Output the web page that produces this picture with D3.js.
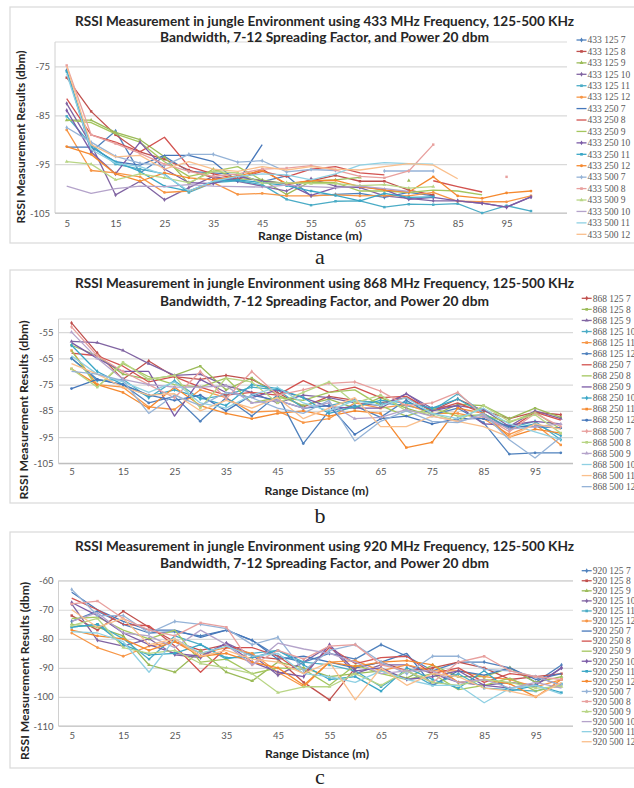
<!DOCTYPE html>
<html>
<head>
<meta charset="utf-8">
<script src="https://cdn.jsdelivr.net/npm/d3@7/dist/d3.min.js"></script>
<style>
  body { margin: 0; background: #fff; }
  svg { display: block; }
</style>
</head>
<body>
<script>
// range distances (m) on the x axis
const distances = [5, 10, 15, 20, 25, 30, 35, 40, 45, 50, 55, 60, 65, 70, 75, 80, 85, 90, 95, 100];
const xTickLabels = [5, 15, 25, 35, 45, 55, 65, 75, 85, 95];
// bandwidth + spreading factor, same order in every panel
const seriesNames = ["125 7", "125 8", "125 9", "125 10", "125 11", "125 12",
                     "250 7", "250 8", "250 9", "250 10", "250 11", "250 12",
                     "500 7", "500 8", "500 9", "500 10", "500 11", "500 12"];

// RSSI (dbm), one row per series, null = no point
const rssi433 = [
  [-75.8, -92.5, -88.2, -96.8, -93.4, -96.5, -96.8, -97.2, -98.6, -97.4, -101.5, -101.2, -101.0, -101.8, -100.8, -101.5, null, null, null, null],
  [-77.3, -84.2, -89.0, -92.5, -94.0, -96.2, -97.8, -98.2, -96.0, -99.2, -98.4, -97.3, -98.5, -98.5, -100.3, -101.3, null, null, null, null],
  [-86.0, -86.0, -88.5, -90.0, -93.5, -99.0, -96.0, -98.0, -98.2, -101.2, -98.5, -98.2, -97.7, null, -98.4, null, null, null, null, null],
  [-82.6, -91.0, -101.3, -98.5, -102.3, -99.8, -97.5, -98.5, -99.5, -100.5, -98.0, -99.5, -99.8, -101.5, -102.0, -102.5, -102.5, -103.0, -103.8, -101.7],
  [-85.2, -91.0, -95.0, -96.0, -97.0, -100.8, -98.8, -98.4, -99.2, -102.2, -103.4, -102.6, -102.5, -103.8, -103.2, -103.3, -103.1, -105.0, -103.5, -104.6],
  [-88.0, -96.3, -96.8, -97.6, -100.8, -100.5, -98.8, -101.2, -101.0, -101.5, -101.5, -101.3, -101.5, -101.4, -101.5, -100.8, -102.6, -102.7, -102.7, -101.5],
  [-91.5, -91.5, -94.5, -95.2, -93.2, -93.2, -94.5, -98.6, -91.0, null, null, null, null, null, null, null, null, null, null, null],
  [-81.6, -89.0, -90.5, -92.5, -89.5, -95.5, -97.0, -98.0, -96.5, -97.6, -96.0, -95.5, -96.8, -97.2, null, -98.4, -99.6, -100.7, null, null],
  [-86.0, -86.5, -88.8, -90.5, -94.5, -97.5, -96.5, -95.5, -98.3, -99.0, -98.7, -98.8, -100.5, -100.5, -100.8, -100.3, -100.5, -101.3, null, null],
  [-84.0, -92.5, -97.0, -90.5, -96.0, -98.8, -99.0, -97.5, -98.5, -99.0, -101.4, -99.8, -99.6, -100.2, -102.2, -101.8, -102.5, -103.0, -103.8, -101.7],
  [-76.0, -91.5, -94.5, -96.5, -99.5, -100.5, -98.5, -98.2, -98.8, -99.4, -100.5, -101.4, -102.5, -101.0, -101.8, -101.7, null, null, null, null],
  [-91.4, -93.0, -97.0, -98.5, -96.8, -97.8, -98.2, -97.4, -96.3, -99.0, -98.4, -98.3, -99.6, -100.3, -100.7, -97.6, -101.5, -102.0, -100.9, -100.5],
  [-87.5, -90.5, -93.4, -94.8, -95.3, -93.0, -93.0, -94.6, -94.3, -96.6, -96.1, -96.3, null, -96.4, -96.4, -96.4, null, null, null, null],
  [-74.8, -89.0, -90.8, -92.8, -95.0, -96.5, -97.5, -97.0, -96.0, -95.8, -95.3, -96.2, -97.5, -97.8, -96.4, -91.0, null, null, -97.6, null],
  [-94.5, -95.0, -98.2, -97.0, -97.8, -98.8, -96.5, -96.8, -98.9, -98.8, -99.0, -99.0, -99.4, -99.2, -99.9, -99.6, null, null, null, null],
  [-99.5, -101.0, -100.0, -99.5, -99.6, -99.2, -99.5, -99.6, -99.7, -99.3, -99.6, -99.8, -99.5, -100.0, -100.6, null, null, null, null, null],
  [-76.5, -92.0, -94.8, -95.5, -97.2, -100.5, -98.5, -97.5, -97.0, -97.2, -98.2, -97.0, -95.2, -94.7, -94.9, -95.0, null, null, null, null],
  [-75.0, -91.0, -93.5, -93.2, -96.0, -94.5, -96.0, -96.5, -95.5, -96.2, -95.5, -96.0, -96.2, -95.5, -94.9, -95.2, -98.0, null, null, null]
];

const rssi868 = [
  [-51.5, -63.0, -73.0, -66.0, -72.0, -73.0, -71.5, -73.0, -78.0, -83.5, -79.5, -81.0, -82.0, -80.0, -85.0, -80.5, -85.0, -88.0, -85.5, -86.5],
  [-60.0, -64.0, -71.0, -73.0, -71.5, -68.0, -77.0, -72.5, -79.0, -83.0, -80.5, -84.0, -80.0, -84.0, -87.0, -82.5, -83.0, -88.0, -84.0, -87.5],
  [-58.5, -59.0, -62.0, -67.0, -71.5, -71.0, -75.5, -78.0, -82.0, -79.0, -80.0, -82.0, -83.0, -78.5, -84.0, -83.0, -84.5, -91.0, -85.0, -88.0],
  [-65.0, -73.5, -73.0, -80.0, -73.5, -80.5, -79.0, -76.0, -77.0, -84.0, -83.0, -81.0, -82.0, -83.0, -85.0, -78.5, -86.0, -91.5, -89.0, -96.0],
  [-62.0, -75.0, -76.0, -83.5, -84.5, -77.0, -80.0, -85.5, -85.0, -89.5, -88.0, -82.0, -84.0, -82.5, -86.0, -86.0, -88.0, -94.0, -90.0, -98.0],
  [-65.0, -73.0, -75.0, -82.0, -79.5, -89.0, -80.0, -87.0, -79.0, -97.5, -85.0, -83.0, -87.5, -81.0, -86.5, -84.0, -89.5, -101.5, -101.0, -101.0],
  [-63.0, -64.0, -68.0, -74.0, -72.0, -76.0, -79.0, -78.0, -79.0, -73.5, -78.0, -76.0, -80.0, -79.5, -85.0, -82.0, -86.0, -92.0, -85.5, -88.5],
  [-62.0, -76.0, -67.0, -72.0, -75.0, -76.0, -72.5, -82.0, -80.0, -81.0, -78.0, -77.0, -83.0, -87.0, -84.0, -87.0, -86.5, -89.5, -85.5, -92.0],
  [-59.0, -65.0, -70.0, -70.0, -87.0, -73.0, -78.0, -80.0, -77.0, -80.0, -83.5, -84.0, -84.0, -78.5, -85.0, -83.0, -90.0, -90.5, -89.0, -90.0],
  [-60.0, -70.0, -75.0, -79.5, -77.0, -80.0, -83.0, -75.0, -76.5, -80.0, -86.0, -83.5, -81.0, -82.0, -84.0, -80.5, -86.0, -92.0, -90.0, -94.5],
  [-69.0, -75.0, -78.0, -84.0, -76.0, -83.0, -86.0, -88.0, -86.0, -85.0, -87.0, -85.0, -86.0, -99.0, -97.0, -84.0, -86.0, -95.0, -92.0, -93.5],
  [-76.5, -73.0, -75.0, -79.0, -81.0, -79.0, -85.0, -79.0, -81.0, -84.0, -83.0, -94.0, -88.0, -87.0, -90.0, -88.0, -88.0, -91.0, -91.0, -91.5],
  [-53.0, -64.0, -70.0, -75.0, -80.0, -70.0, -80.5, -70.0, -79.0, -77.0, -74.5, -74.0, -77.5, -83.0, -82.0, -78.0, -87.0, -93.0, -86.0, -91.0],
  [-69.0, -76.0, -66.5, -73.0, -71.5, -84.0, -72.5, -74.0, -82.0, -78.0, -74.0, -82.0, -79.0, -85.0, -86.0, -89.0, -83.0, -89.0, -86.5, -93.5],
  [-55.0, -65.0, -73.0, -75.0, -76.0, -76.0, -75.5, -82.0, -81.0, -84.0, -82.0, -88.0, -87.5, -84.5, -87.0, -89.0, -87.0, -92.0, -91.0, -90.0],
  [-64.0, -71.0, -74.0, -78.0, -74.0, -82.0, -84.0, -79.0, -76.0, -82.0, -85.0, -81.0, -83.0, -80.0, -86.0, -88.0, -84.0, -90.0, -93.0, -96.0],
  [-67.0, -71.0, -76.0, -79.0, -78.5, -85.0, -81.0, -84.0, -80.0, -88.0, -84.0, -80.0, -91.0, -91.0, -87.0, -89.0, -91.0, -95.0, -90.0, -92.0],
  [-70.0, -71.0, -73.5, -86.0, -79.0, -83.0, -78.0, -80.0, -84.0, -86.0, -81.0, -96.5, -89.0, -85.0, -89.0, -89.5, -86.0, -96.0, -103.0, -95.0]
];

const rssi920 = [
  [-74.0, -70.5, -75.0, -78.0, -77.5, -79.0, -77.0, -80.5, -86.0, -88.0, -85.0, -87.0, -82.0, -86.0, -91.0, -88.0, -88.0, -90.0, -95.0, -89.0],
  [-72.0, -77.0, -70.5, -76.0, -81.0, -84.0, -82.0, -86.0, -87.0, -95.0, -101.0, -90.0, -88.0, -91.0, -90.0, -88.0, -90.0, -94.0, -93.0, -92.0],
  [-75.0, -76.0, -79.0, -89.0, -91.5, -84.0, -91.5, -94.5, -88.0, -90.0, -93.0, -92.0, -91.0, -93.5, -89.0, -93.0, -93.0, -90.0, -95.0, -93.0],
  [-68.0, -80.5, -82.5, -80.0, -85.5, -86.5, -81.5, -85.5, -92.5, -88.0, -82.5, -92.0, -89.0, -89.0, -92.0, -95.0, -96.0, -95.0, -96.0, -90.0],
  [-76.0, -75.0, -80.0, -87.0, -79.0, -82.0, -87.0, -85.0, -84.0, -88.0, -89.0, -91.0, -96.5, -91.0, -96.0, -92.0, -97.0, -97.5, -98.0, -95.5],
  [-78.0, -83.0, -86.0, -82.5, -81.0, -85.0, -83.0, -85.0, -91.5, -96.5, -88.0, -87.5, -91.0, -89.0, -91.0, -91.0, -93.0, -94.0, -96.5, -94.0],
  [-64.0, -70.0, -74.0, -77.0, -77.0, -79.5, -77.0, -80.5, -87.0, -86.0, -88.0, -90.0, -88.0, -85.0, -96.0, -91.0, -92.5, -90.0, -94.0, -92.0],
  [-66.0, -70.0, -75.0, -75.5, -82.5, -91.5, -83.0, -83.0, -86.0, -92.0, -83.0, -88.5, -86.5, -86.0, -92.0, -90.0, -95.0, -92.0, -93.0, -96.0],
  [-73.0, -72.5, -77.0, -80.0, -77.0, -88.0, -87.0, -92.0, -90.0, -90.5, -96.0, -89.0, -92.0, -94.0, -92.0, -97.5, -96.0, -93.5, -98.0, -96.0],
  [-67.5, -72.0, -78.0, -82.0, -85.0, -86.0, -81.5, -88.0, -91.5, -93.0, -82.0, -91.0, -90.0, -94.0, -93.0, -91.0, -96.0, -97.0, -96.0, -90.0],
  [-76.0, -75.0, -82.0, -85.5, -85.0, -82.0, -86.5, -86.5, -84.0, -89.0, -94.0, -93.0, -98.0, -90.0, -94.0, -97.0, -91.0, -98.0, -96.0, -98.5],
  [-77.0, -79.0, -80.0, -84.0, -81.0, -86.0, -85.0, -88.0, -90.0, -96.0, -88.0, -89.5, -88.0, -87.5, -89.0, -95.0, -94.0, -95.5, -100.0, -94.0],
  [-63.0, -72.0, -72.0, -78.0, -74.0, -75.0, -76.5, -82.0, -79.5, -91.0, -84.0, -82.0, -88.0, -92.0, -86.0, -86.0, -90.5, -91.0, -93.0, -96.0],
  [-68.0, -67.0, -73.0, -77.0, -79.0, -74.5, -76.0, -89.0, -84.0, -87.0, -82.5, -82.0, -89.0, -91.0, -95.0, -88.0, -86.0, -91.0, -93.0, -94.0],
  [-75.5, -73.0, -83.0, -85.0, -84.0, -88.5, -90.0, -92.0, -98.5, -96.5, -96.5, -92.0, -96.0, -91.0, -95.0, -96.0, -94.0, -95.0, -97.0, -96.5],
  [-74.0, -71.0, -78.0, -79.0, -83.0, -77.0, -82.0, -89.0, -81.5, -83.5, -85.0, -88.0, -92.0, -91.0, -91.0, -95.0, -94.0, -97.0, -95.0, -97.0],
  [-77.5, -78.0, -81.0, -91.5, -80.0, -85.0, -82.5, -86.0, -85.0, -92.0, -93.0, -95.0, -91.0, -94.0, -96.0, -96.0, -102.0, -97.0, -96.0, -99.0],
  [-70.0, -76.0, -73.0, -82.0, -80.0, -86.0, -84.0, -87.0, -88.0, -92.0, -88.0, -101.0, -90.0, -96.0, -92.0, -93.0, -97.0, -98.0, -100.0, -95.0]
];

// Office 2010 style palette: base, mid, light
const palette = ["#4F81BD", "#C0504D", "#9BBB59", "#8064A2", "#4BACC6", "#F79646",
                 "#4677BA", "#D2524F", "#A4C65E", "#7B5BA6", "#39A6C6", "#F5892F",
                 "#95B3D7", "#E8A09E", "#B8D585", "#B4A3CA", "#8FD0E3", "#FABF8C"];
const symbols = [d3.symbolDiamond, d3.symbolSquare, d3.symbolTriangle, d3.symbolDiamond, d3.symbolSquare, d3.symbolCircle];
const withMarker = [1,1,1,1,1,1, 0,0,0,1,1,1, 1,1,1,0,0,0];

const panels = [
  { data: rssi433, freq: "433", shift: 0, letter: "a", letterY: 264,
    box: [10, 7, 640, 236], left: 55, right: 567, top: 42, bottom: 213, x0: 66.7, x1: 531,
    yDomain: [-105, -70], yTicks: [-75, -85, -95, -105], t1: 26, t2: 42, tickY: 229,
    xTitle: [310, 240], yTitle: [21, 137, 173], legX: 576.5, legY: 40, legStep: 11.43 },
  { data: rssi868, freq: "868", shift: 1, letter: "b", letterY: 523,
    box: [10, 270, 640, 233], left: 58.5, right: 573, top: 319, bottom: 463.3, x0: 71.5, x1: 560.8,
    yDomain: [-105, -50], yTicks: [-55, -65, -75, -85, -95, -105], t1: 288, t2: 306, tickY: 477,
    xTitle: [316.5, 495], yTitle: [24, 410, 179], legX: 581.7, legY: 298.3, legStep: 11.08 },
  { data: rssi920, freq: "920", shift: 0, letter: "c", letterY: 784,
    box: [10, 532, 640, 236], left: 58.5, right: 573, top: 580.7, bottom: 726, x0: 71.7, x1: 561.5,
    yDomain: [-110, -60], yTicks: [-60, -70, -80, -90, -100, -110], t1: 550.5, t2: 568, tickY: 741,
    xTitle: [317, 757.5], yTitle: [25, 671, 178], legX: 581.7, legY: 570.7, legStep: 10.06 }
];

const svg = d3.select("body").append("svg")
  .attr("width", 634)
  .attr("height", 788);

svg.append("rect").attr("width", 634).attr("height", 788).attr("fill", "#fff");

panels.forEach(p => {
  const g = svg.append("g");

  g.append("rect")
    .attr("x", p.box[0]).attr("y", p.box[1])
    .attr("width", p.box[2]).attr("height", p.box[3])
    .attr("fill", "none").attr("stroke", "#d9d9d9").attr("stroke-width", 1.2);

  const x = d3.scalePoint().domain(distances).range([p.x0, p.x1]);
  const y = d3.scaleLinear().domain(p.yDomain).range([p.bottom, p.top]);

  // gridlines + y labels
  g.append("g")
    .attr("transform", `translate(${p.left},0)`)
    .call(d3.axisLeft(y).tickValues(p.yTicks).tickSize(-(p.right - p.left)).tickPadding(5).tickFormat(d => String(d)))
    .call(a => {
      a.select(".domain").remove();
      a.selectAll("line").attr("stroke", "#d9d9d9").attr("stroke-width", 1.2);
      a.selectAll("text").attr("fill", "#595959").style("font", "9.5px Lato");
    });

  // top border of the plot area and left axis line
  g.append("line").attr("x1", p.left).attr("x2", p.right)
    .attr("y1", y(p.yDomain[1])).attr("y2", y(p.yDomain[1]))
    .attr("stroke", "#d9d9d9").attr("stroke-width", 1.2);
  g.append("line").attr("x1", p.left).attr("x2", p.left)
    .attr("y1", p.top).attr("y2", p.bottom)
    .attr("stroke", "#d0d0d0").attr("stroke-width", 1);
  g.append("line").attr("x1", p.left).attr("x2", p.right)
    .attr("y1", p.bottom).attr("y2", p.bottom)
    .attr("stroke", "#bfbfbf").attr("stroke-width", 1.2);

  // x labels
  g.append("g")
    .attr("transform", `translate(0,${p.tickY - 9})`)
    .call(d3.axisBottom(x).tickValues(xTickLabels).tickSize(0).tickPadding(0))
    .call(a => {
      a.select(".domain").remove();
      a.selectAll("text").attr("fill", "#595959").style("font", "9.5px Lato");
    });

  // series
  const line = d3.line()
    .defined(v => v != null)
    .x((v, i) => x(distances[i]))
    .y(v => y(v));

  const colorOf = k => palette[Math.floor(k / 6) * 6 + ((k % 6) + p.shift) % 6];

  p.data.forEach((vals, k) => {
    g.append("path")
      .attr("d", line(vals))
      .attr("fill", "none")
      .attr("stroke", colorOf(k))
      .attr("stroke-width", 1.3)
      .attr("stroke-linejoin", "round");
    if (withMarker[k]) {
      g.selectAll(null)
        .data(vals.map((v, i) => [distances[i], v]).filter(d => d[1] != null))
        .enter().append("path")
        .attr("transform", d => `translate(${x(d[0])},${y(d[1])})`)
        .attr("d", d3.symbol().type(symbols[k % 6]).size(6))
        .attr("fill", colorOf(k));
    }
  });

  // titles
  const title = g.append("g").attr("fill", "#262626")
    .style("font-family", "Lato").style("font-weight", "bold").style("font-size", "13.5px");
  title.append("text").attr("x", 75).attr("y", p.t1)
    .attr("textLength", 499).attr("lengthAdjust", "spacingAndGlyphs")
    .text(`RSSI Measurement in jungle Environment using ${p.freq} MHz Frequency, 125-500 KHz`);
  title.append("text").attr("x", 160).attr("y", p.t2)
    .attr("textLength", 329).attr("lengthAdjust", "spacingAndGlyphs")
    .text("Bandwidth, 7-12 Spreading Factor, and Power 20 dbm");

  g.append("text")
    .attr("x", p.xTitle[0]).attr("y", p.xTitle[1])
    .attr("text-anchor", "middle")
    .attr("textLength", 104).attr("lengthAdjust", "spacingAndGlyphs")
    .attr("fill", "#262626")
    .style("font", "bold 11.5px Lato")
    .text("Range Distance (m)");

  g.append("text")
    .attr("transform", `translate(${p.yTitle[0] + 4},${p.yTitle[1]}) rotate(-90)`)
    .attr("text-anchor", "middle")
    .attr("textLength", p.yTitle[2]).attr("lengthAdjust", "spacingAndGlyphs")
    .attr("fill", "#262626")
    .style("font", "bold 11.5px Lato")
    .text("RSSI Measurement Results (dbm)");

  // legend
  const leg = g.append("g");
  p.data.forEach((vals, k) => {
    const ly = p.legY + k * p.legStep;
    leg.append("line")
      .attr("x1", p.legX).attr("x2", p.legX + 10)
      .attr("y1", ly).attr("y2", ly)
      .attr("stroke", colorOf(k)).attr("stroke-width", 1.3);
    if (withMarker[k]) {
      leg.append("path")
        .attr("transform", `translate(${p.legX + 5},${ly})`)
        .attr("d", d3.symbol().type(symbols[k % 6]).size(7))
        .attr("fill", colorOf(k));
    }
    leg.append("text")
      .attr("x", p.legX + 11).attr("y", ly + 3.3)
      .attr("fill", "#595959")
      .style("font", "9.5px 'Liberation Serif'")
      .text(`${p.freq} ${seriesNames[k]}`);
  });

  svg.append("text")
    .attr("x", 320).attr("y", p.letterY)
    .attr("text-anchor", "middle")
    .attr("fill", "#222")
    .style("font", "22px 'Liberation Serif'")
    .text(p.letter);
});
</script>
</body>
</html>
